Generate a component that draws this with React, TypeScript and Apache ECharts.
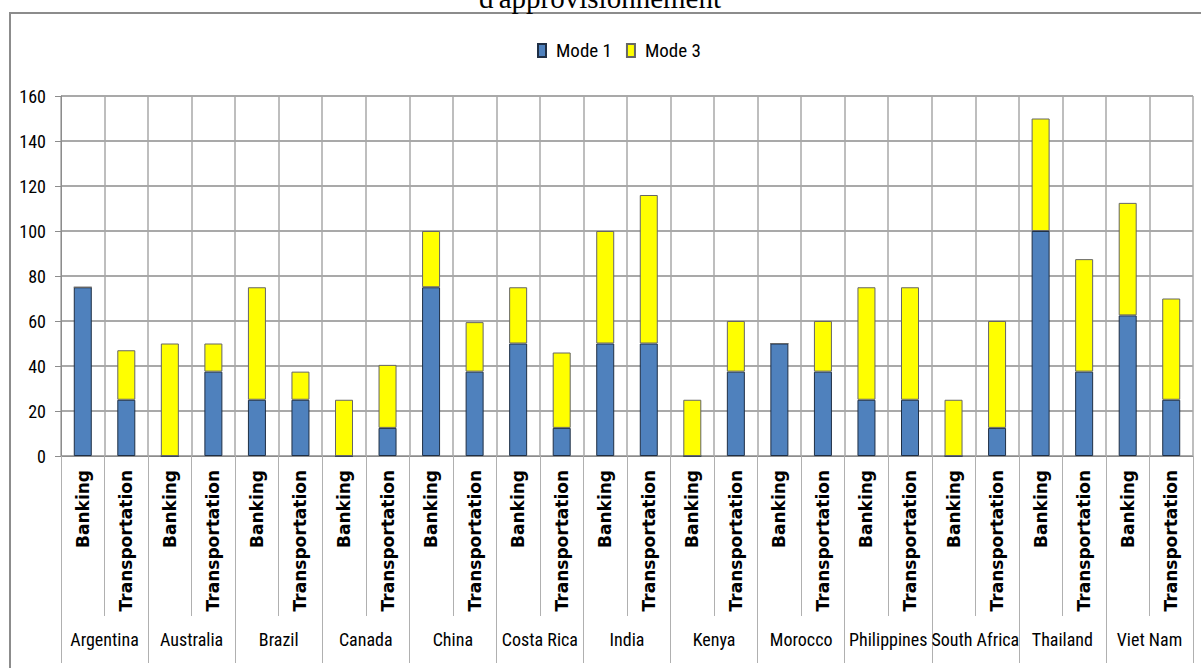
import React, { useEffect, useRef } from "react";
import * as echarts from "echarts";

const countries = ["Argentina", "Australia", "Brazil", "Canada", "China", "Costa Rica", "India", "Kenya", "Morocco", "Philippines", "South Africa", "Thailand", "Viet Nam"];
const sectors = ["Banking", "Transportation"];
const mode1 = [75, 25, 0, 37.5, 25, 25, 0, 12.5, 75, 37.5, 50, 12.5, 50, 50, 0, 37.5, 50, 37.5, 25, 25, 0, 12.5, 100, 37.5, 62.5, 25];
const mode3 = [0, 22, 50, 12.5, 50, 12.5, 25, 28, 25, 22, 25, 33.5, 50, 66, 25, 22.5, 0, 22.5, 50, 50, 25, 47.5, 50, 50, 50, 45];
const yTicks = { min: 0, max: 160, interval: 20 };
const title = "d'approvisionnement";

const NARROW = "'Roboto Condensed', 'Liberation Sans Narrow', sans-serif";

export default function App() {
  const ref = useRef<HTMLDivElement>(null);
  useEffect(() => {
    if (!ref.current) return;
    const chart = echarts.init(ref.current, null, { renderer: "svg" });
    const subCats: string[] = [];
    countries.forEach(() => sectors.forEach((s) => subCats.push(s)));
    chart.setOption({
      animation: false,
      backgroundColor: "#ffffff",
      graphic: [
        { type: "rect", shape: { x: 10, y: 13, width: 1200, height: 700 }, style: { fill: "none", stroke: "#8c8c8c", lineWidth: 2 }, z: -1 },
        { type: "text", x: 600, y: 12, style: { text: title, font: "29px 'Liberation Serif', 'Times New Roman', serif", fill: "#000", align: "center", verticalAlign: "bottom" } },
      ],
      legend: {
        top: 36,
        left: 532,
        itemWidth: 8,
        itemHeight: 13,
        itemGap: 14,
        icon: "rect",
        textStyle: { fontFamily: NARROW, fontSize: 19, color: "#000", padding: [0, 0, 0, 5] },
        data: ["Mode 1", "Mode 3"],
      },
      grid: { left: 61, right: 8, top: 96, bottom: 212, containLabel: false },
      xAxis: [
        {
          type: "category",
          data: subCats,
          position: "bottom",
          axisLine: { show: true, lineStyle: { color: "#8c8c8c", width: 1 } },
          axisTick: { show: true, length: 160, interval: 0, lineStyle: { color: "#b0b0b0" } },
          axisLabel: { interval: 0, rotate: 90, margin: 14, fontFamily: "'DejaVu Sans', Verdana, sans-serif", fontSize: 17, fontWeight: "bold", color: "#000" },
          splitLine: { show: true, interval: 0, lineStyle: { color: "#a8a8a8", width: 1.5 } },
        },
        {
          type: "category",
          data: countries,
          position: "bottom",
          offset: 160,
          axisLine: { show: false },
          axisTick: { show: true, length: 47, interval: 0, lineStyle: { color: "#b0b0b0" } },
          axisLabel: { interval: 0, margin: 14, fontFamily: NARROW, fontSize: 18, color: "#000" },
          splitLine: { show: false },
        },
      ],
      yAxis: {
        type: "value",
        min: yTicks.min,
        max: yTicks.max,
        interval: yTicks.interval,
        axisLine: { show: true, lineStyle: { color: "#8c8c8c" } },
        axisTick: { show: true, length: 6, lineStyle: { color: "#8c8c8c" } },
        axisLabel: { margin: 15, fontFamily: NARROW, fontSize: 18, color: "#000" },
        splitLine: { show: true, lineStyle: { color: "#8c8c8c", width: 1.5 } },
      },
      series: [
        {
          name: "Mode 1",
          type: "bar",
          stack: "total",
          xAxisIndex: 0,
          barWidth: 18,
          data: mode1,
          itemStyle: { color: "#4F81BD", borderColor: "#1f2f45", borderWidth: 1 },
        },
        {
          name: "Mode 3",
          type: "bar",
          stack: "total",
          xAxisIndex: 0,
          barWidth: 18,
          data: mode3,
          itemStyle: { color: "#FFFF00", borderColor: "#666666", borderWidth: 1 },
        },
      ],
    });
    return () => chart.dispose();
  }, []);
  return <div ref={ref} style={{ width: 1201, height: 668, position: "absolute", left: 0, top: 0 }} />;
}
